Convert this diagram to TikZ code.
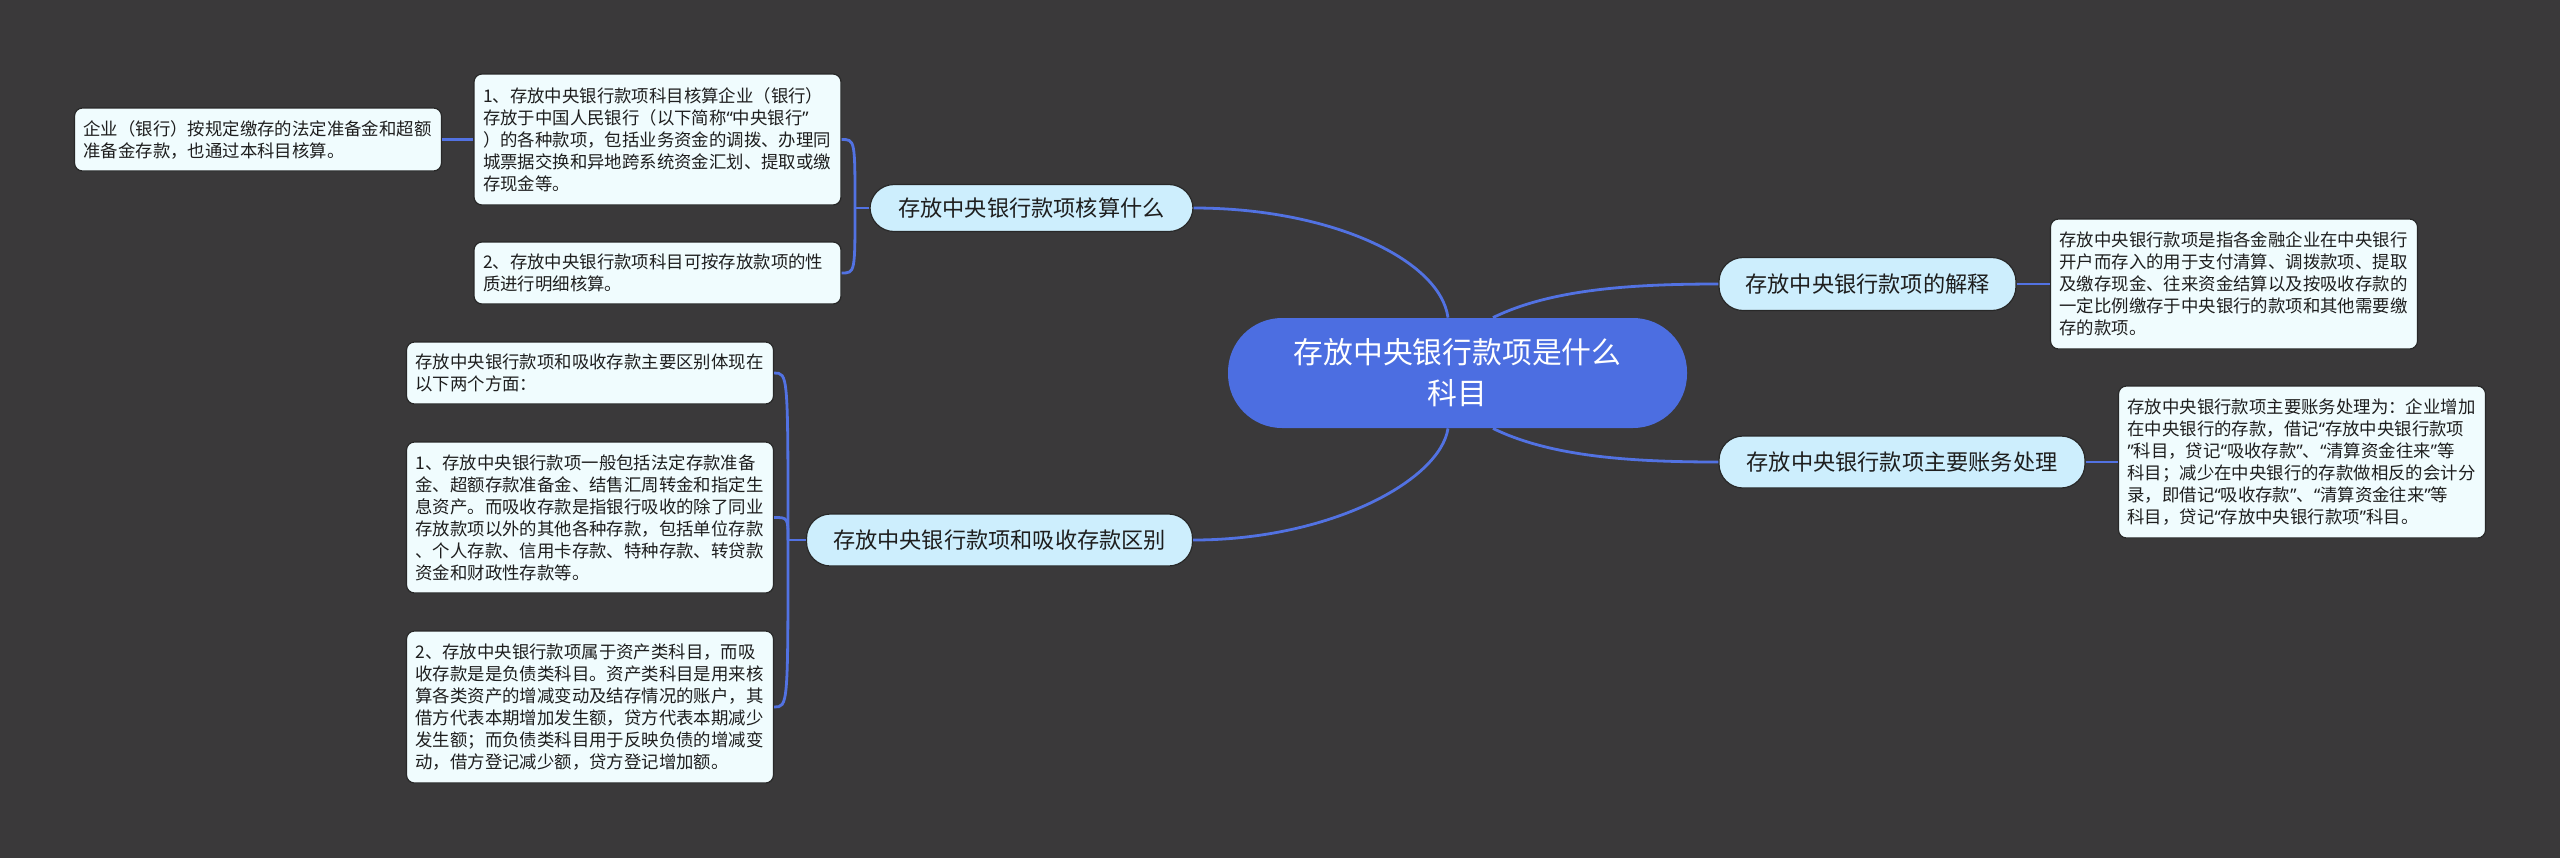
\documentclass[tikz,border=0pt]{standalone}
\usepackage{fontspec}
\setmainfont{Noto Sans CJK SC}
\newfontfamily\qfont{Noto Sans}
\newcommand\oqt{{\qfont “}}
\newcommand\cqt{{\qfont ”}}
\definecolor{bg}{RGB}{58,57,58}
\definecolor{rootc}{RGB}{76,110,225}
\definecolor{linec}{RGB}{82,114,226}
\definecolor{brfill}{RGB}{205,238,253}
\definecolor{leaffill}{RGB}{240,252,254}
\definecolor{edgec}{RGB}{40,40,40}
\definecolor{txt}{RGB}{30,30,30}
\tikzset{
  rootbox/.style={fill=rootc, draw=none, rounded corners=27pt, minimum width=229.5pt, minimum height=55pt, inner sep=0pt, align=center, text=white, font=\fontsize{14.9pt}{20.5pt}\selectfont},
  branchbox/.style={fill=brfill, draw=edgec, line width=0.6pt, rounded corners=12pt, inner sep=0pt, text=txt, font=\fontsize{11.1pt}{13pt}\selectfont},
  leafbox/.style={fill=leaffill, draw=edgec, line width=0.6pt, rounded corners=4pt, text width=174.5pt, inner xsep=4.5pt, inner ysep=0pt, align=left, text=txt, font=\fontsize{8.7pt}{11pt}\selectfont},
  conn/.style={draw=linec, line width=1.4pt}
}
\begin{document}
\begin{tikzpicture}[x=0.5pt, y=-0.5pt]
\fill[bg] (0,0) rectangle (2560,858);
\useasboundingbox (0,0) rectangle (2560,858);

% root
\node[rootbox] (root) at (1457.5,373) {存放中央银行款项是什么\\科目};

% branches
\node[branchbox, minimum width=161.5pt, minimum height=23.5pt] (B1) at (1031.5,208) {存放中央银行款项核算什么};
\node[branchbox, minimum width=193pt, minimum height=26pt] (B2) at (999.5,540) {存放中央银行款项和吸收存款区别};
\node[branchbox, minimum width=148.5pt, minimum height=26.5pt] (B3) at (1867.5,284) {存放中央银行款项的解释};
\node[branchbox, minimum width=183pt, minimum height=26pt] (B4) at (1902,462) {存放中央银行款项主要账务处理};

% leaves
\node[leafbox, minimum height=31.5pt] (L1a) at (258,139.5) {企业（银行）按规定缴存的法定准备金和超额\\准备金存款，也通过本科目核算。};
\node[leafbox, minimum height=65.5pt] (L1b) at (657.5,139.5) {1、存放中央银行款项科目核算企业（银行）\\存放于中国人民银行（以下简称\oqt 中央银行\cqt\\）的各种款项，包括业务资金的调拨、办理同\\城票据交换和异地跨系统资金汇划、提取或缴\\存现金等。};
\node[leafbox, minimum height=31pt] (L1c) at (657.5,273) {2、存放中央银行款项科目可按存放款项的性\\质进行明细核算。};
\node[leafbox, minimum height=31pt] (L2a) at (590,373) {存放中央银行款项和吸收存款主要区别体现在\\以下两个方面：};
\node[leafbox, minimum height=75.5pt] (L2b) at (590,517.5) {1、存放中央银行款项一般包括法定存款准备\\金、超额存款准备金、结售汇周转金和指定生\\息资产。而吸收存款是指银行吸收的除了同业\\存放款项以外的其他各种存款，包括单位存款\\、个人存款、信用卡存款、特种存款、转贷款\\资金和财政性存款等。};
\node[leafbox, minimum height=76pt] (L2c) at (590,707) {2、存放中央银行款项属于资产类科目，而吸\\收存款是是负债类科目。资产类科目是用来核\\算各类资产的增减变动及结存情况的账户，其\\借方代表本期增加发生额，贷方代表本期减少\\发生额；而负债类科目用于反映负债的增减变\\动，借方登记减少额，贷方登记增加额。};
\node[leafbox, minimum height=65pt] (R1) at (2234,284) {存放中央银行款项是指各金融企业在中央银行\\开户而存入的用于支付清算、调拨款项、提取\\及缴存现金、往来资金结算以及按吸收存款的\\一定比例缴存于中央银行的款项和其他需要缴\\存的款项。};
\node[leafbox, minimum height=76pt] (R2) at (2302,462) {存放中央银行款项主要账务处理为：企业增加\\在中央银行的存款，借记\oqt 存放中央银行款项\\\cqt 科目，贷记\oqt 吸收存款\cqt 、\oqt 清算资金往来\cqt 等\\科目；减少在中央银行的存款做相反的会计分\\录，即借记\oqt 吸收存款\cqt 、\oqt 清算资金往来\cqt 等\\科目，贷记\oqt 存放中央银行款项\cqt 科目。};

% junctions
\coordinate (j1) at (855,208);
\coordinate (j2) at (788,540);

% root to branches
\draw[conn] (B1.east) .. controls +(137,0) and +(-8,-58) .. ([xshift=-4.75pt]root.north);
\draw[conn] (B2.east) .. controls +(137,0) and +(-8,52) .. ([xshift=-4.75pt]root.south);
\draw[conn] ([xshift=17.75pt]root.north) .. controls +(57,-28) and +(-89,0) .. (B3.west);
\draw[conn] ([xshift=17.75pt]root.south) .. controls +(57,28) and +(-89,0) .. (B4.west);

% branch to leaves
\draw[conn] (B3.east) -- (R1.west);
\draw[conn] (B4.east) -- (R2.west);
\draw[conn] (B1.west) -- (j1);
\draw[conn] (j1) .. controls (j1 |- L1b.east) .. (L1b.east);
\draw[conn] (j1) .. controls (j1 |- L1c.east) .. (L1c.east);
\draw[conn] (L1b.west) -- (L1a.east);
\draw[conn] (B2.west) -- (j2);
\draw[conn] (j2) .. controls (j2 |- L2a.east) .. (L2a.east);
\draw[conn] (j2) .. controls (j2 |- L2b.east) .. (L2b.east);
\draw[conn] (j2) .. controls (j2 |- L2c.east) .. (L2c.east);
\end{tikzpicture}
\end{document}
